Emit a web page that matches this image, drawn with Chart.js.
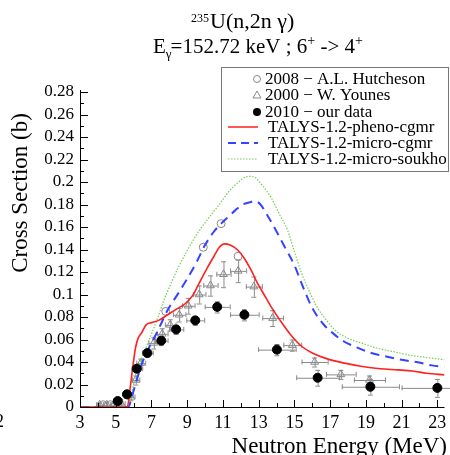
<!DOCTYPE html>
<html>
<head>
<meta charset="utf-8">
<script src="https://cdn.jsdelivr.net/npm/chart.js@4.4.1/dist/chart.umd.min.js"></script>
<style>
html,body{margin:0;padding:0;background:#fff;}
#wrap{position:relative;width:450px;height:455px;}
</style>
</head>
<body>
<div id="wrap"><canvas id="c" width="450" height="455"></canvas></div>
<script>
// ---------- data ----------
const xTickLabels = [3,5,7,9,11,13,15,17,19,21,23];
const yTickStep = 0.02;

// 2008 - A.L. Hutcheson (open circles)
const hutchE   = [4.3, 4.7, 7.8, 9.9, 10.9, 11.85];
const hutchXS  = [0.002, 0.002, 0.085, 0.142, 0.163, 0.134];

// 2000 - W. Younes (open triangles)
const younesE    = [4.1, 4.5, 4.9, 5.3, 5.85, 6.12, 6.4, 7.13, 7.6, 8.05, 8.55, 9.06, 9.67, 10.3, 11.03, 11.85, 12.73, 13.78, 14.88, 16.13, 17.6, 19.2];
const younesXS   = [0.002, 0.002, 0.002, 0.003, 0.009, 0.024, 0.039, 0.057, 0.065, 0.073, 0.082, 0.090, 0.100, 0.108, 0.118, 0.121, 0.107, 0.079, 0.055, 0.040, 0.029, 0.024];
const younesEerr = [0.2, 0.2, 0.2, 0.2, 0.2, 0.2, 0.25, 0.3, 0.3, 0.3, 0.35, 0.35, 0.35, 0.4, 0.4, 0.45, 0.45, 0.58, 0.5, 0.73, 0.83, 0.87];
const younesXSerr= [0.002, 0.002, 0.002, 0.002, 0.003, 0.004, 0.004, 0.005, 0.005, 0.005, 0.006, 0.007, 0.008, 0.009, 0.0115, 0.01, 0.009, 0.007, 0.005, 0.004, 0.004, 0.004];

// 2010 - our data (filled circles)
const ourE     = [5.11, 5.63, 6.18, 6.77, 7.55, 8.38, 9.45, 10.68, 12.2, 14.02, 16.3, 19.25, 23.0];
const ourXS    = [0.0053, 0.0113, 0.034, 0.048, 0.059, 0.069, 0.077, 0.089, 0.082, 0.051, 0.026, 0.018, 0.017];
const ourEerr  = [0.25, 0.25, 0.3, 0.3, 0.35, 0.4, 0.5, 0.7, 0.8, 1.05, 1.2, 1.6, 2.0];
const ourXSerr = [0.003, 0.003, 0.003, 0.003, 0.004, 0.004, 0.004, 0.005, 0.005, 0.005, 0.007, 0.007, 0.008];

// TALYS-1.2-pheno-cgmr (red)
const phenoE  = [3, 5.65, 5.8, 5.95, 6.1, 6.25, 6.45, 6.7, 7.0, 7.4, 7.9, 8.4, 8.9, 9.3, 9.7, 10.1, 10.5, 10.8, 11.1, 11.4, 11.8, 12.2, 12.6, 12.9, 13.3, 13.7, 14.2, 14.8, 15.4, 16.0, 16.8, 17.8, 18.8, 19.8, 20.8, 21.6, 22.4, 23.4];
const phenoXS = [0, 0, 0.016, 0.035, 0.052, 0.061, 0.066, 0.073, 0.075, 0.077, 0.082, 0.087, 0.092, 0.099, 0.111, 0.123, 0.134, 0.142, 0.145, 0.144, 0.140, 0.132, 0.121, 0.111, 0.100, 0.089, 0.077, 0.064, 0.054, 0.048, 0.043, 0.039, 0.036, 0.034, 0.033, 0.032, 0.030, 0.0285];

// TALYS-1.2-micro-cgmr (blue dashed)
const microE  = [3, 5.7, 5.85, 6.1, 6.5, 6.9, 7.3, 7.9, 8.5, 9.0, 9.5, 10.0, 10.5, 10.9, 11.3, 11.7, 12.1, 12.5, 12.8, 13.1, 13.5, 14.0, 14.5, 15.0, 15.5, 16.0, 16.6, 17.2, 17.8, 18.5, 19.3, 20.2, 21.0, 21.9, 22.7, 23.4];
const microXS = [0, 0, 0.006, 0.02, 0.040, 0.054, 0.066, 0.086, 0.101, 0.114, 0.128, 0.144, 0.156, 0.163, 0.169, 0.175, 0.180, 0.182, 0.183, 0.180, 0.170, 0.156, 0.141, 0.126, 0.106, 0.088, 0.074, 0.065, 0.058, 0.053, 0.048, 0.0447, 0.042, 0.0397, 0.037, 0.0358];

// TALYS-1.2-micro-soukho (green dotted)
const soukhoE  = [3, 5.75, 5.9, 6.1, 6.4, 6.7, 7.0, 7.3, 7.7, 8.1, 8.5, 9.0, 9.6, 10.2, 10.8, 11.3, 11.8, 12.2, 12.5, 12.8, 13.2, 13.7, 14.2, 14.6, 15.0, 15.4, 15.8, 16.3, 16.8, 17.3, 18.0, 18.8, 19.7, 20.6, 21.5, 22.4, 23.4];
const soukhoXS = [0, 0, 0.012, 0.028, 0.041, 0.053, 0.065, 0.077, 0.095, 0.110, 0.124, 0.139, 0.155, 0.168, 0.180, 0.191, 0.199, 0.204, 0.205, 0.204, 0.197, 0.186, 0.170, 0.158, 0.138, 0.119, 0.104, 0.088, 0.077, 0.068, 0.061, 0.0566, 0.052, 0.049, 0.046, 0.044, 0.042];

const legendLabels = ['2008 \u2212 A.L. Hutcheson', '2000 \u2212 W. Younes', '2010 \u2212 our data',
  'TALYS-1.2-pheno-cgmr', 'TALYS-1.2-micro-cgmr', 'TALYS-1.2-micro-soukho'];

// ---------- helpers ----------
const pts = (xs, ys) => xs.map((x, i) => ({x: x, y: ys[i]}));
const SERIF = '"Liberation Serif", "Times New Roman", serif';

const errorBars = [
  {E: younesE, S: younesXS, dE: younesEerr, dS: younesXSerr},
  {E: ourE, S: ourXS, dE: ourEerr, dS: ourXSerr}
];

const overlay = {
  id: 'overlay',
  beforeDatasetsDraw(chart) {
    const ctx = chart.ctx, xs = chart.scales.x, ys = chart.scales.y;
    ctx.save();
    ctx.strokeStyle = '#8a8a8a';
    ctx.lineWidth = 1;
    const cap = 2.5;
    errorBars.forEach(set => {
      set.E.forEach((e, i) => {
        const px = xs.getPixelForValue(e), py = ys.getPixelForValue(set.S[i]);
        const x1 = xs.getPixelForValue(e - set.dE[i]), x2 = xs.getPixelForValue(e + set.dE[i]);
        const y1 = ys.getPixelForValue(set.S[i] - set.dS[i]), y2 = ys.getPixelForValue(set.S[i] + set.dS[i]);
        ctx.beginPath();
        ctx.moveTo(x1, py + 0.5); ctx.lineTo(x2, py + 0.5);
        ctx.moveTo(x1 + 0.5, py - cap); ctx.lineTo(x1 + 0.5, py + cap);
        ctx.moveTo(x2 + 0.5, py - cap); ctx.lineTo(x2 + 0.5, py + cap);
        ctx.moveTo(px + 0.5, y1); ctx.lineTo(px + 0.5, y2);
        ctx.moveTo(px - cap, y1 + 0.5); ctx.lineTo(px + cap, y1 + 0.5);
        ctx.moveTo(px - cap, y2 + 0.5); ctx.lineTo(px + cap, y2 + 0.5);
        ctx.stroke();
      });
    });
    ctx.restore();
  },
  afterDraw(chart) {
    const ctx = chart.ctx, xs = chart.scales.x, ys = chart.scales.y, a = chart.chartArea;
    ctx.save();
    // axes
    ctx.strokeStyle = '#000';
    ctx.lineWidth = 1;
    ctx.beginPath();
    ctx.moveTo(a.left + 0.5, ys.getPixelForValue(ys.max) - 2);
    ctx.lineTo(a.left + 0.5, a.bottom + 0.5);
    ctx.lineTo(a.right, a.bottom + 0.5);
    ctx.stroke();
    // x ticks (inward)
    ctx.beginPath();
    for (let e = Math.ceil(xs.min); e <= xs.max; e++) {
      const px = Math.round(xs.getPixelForValue(e)) + 0.5;
      const len = (e % 2 === 1) ? 7 : 4;
      ctx.moveTo(px, a.bottom); ctx.lineTo(px, a.bottom - len);
    }
    // y ticks (inward)
    for (let k = 0; k <= 28; k++) {
      const py = Math.round(ys.getPixelForValue(k / 100)) + 0.5;
      const len = (k % 2 === 0) ? 8 : 4;
      ctx.moveTo(a.left, py); ctx.lineTo(a.left + len, py);
    }
    ctx.stroke();

    // legend box
    const bx = 221.5, by = 67.5, bw = 227, bh = 104;
    ctx.fillStyle = '#fff';
    ctx.fillRect(bx, by, bw, bh);
    ctx.strokeStyle = '#777';
    ctx.strokeRect(bx, by, bw, bh);
    const rows = [79, 95, 112, 127, 143, 159];
    ctx.font = '17px ' + SERIF;
    ctx.textBaseline = 'middle';
    ctx.fillStyle = '#000';
    // markers
    ctx.strokeStyle = '#888'; ctx.lineWidth = 1;
    ctx.beginPath(); ctx.arc(257, rows[0], 3.5, 0, Math.PI * 2); ctx.stroke();
    ctx.beginPath(); ctx.moveTo(257, rows[1] - 4); ctx.lineTo(261, rows[1] + 3); ctx.lineTo(253, rows[1] + 3); ctx.closePath(); ctx.stroke();
    ctx.fillStyle = '#000';
    ctx.beginPath(); ctx.arc(257, rows[2], 4, 0, Math.PI * 2); ctx.fill();
    // lines
    ctx.lineWidth = 1.5; ctx.strokeStyle = '#ff2020'; ctx.setLineDash([]);
    ctx.beginPath(); ctx.moveTo(228, rows[3]); ctx.lineTo(258, rows[3]); ctx.stroke();
    ctx.lineWidth = 1.8; ctx.strokeStyle = '#3344ff'; ctx.setLineDash([8, 5]);
    ctx.beginPath(); ctx.moveTo(228, rows[4]); ctx.lineTo(258, rows[4]); ctx.stroke();
    ctx.lineWidth = 1.2; ctx.strokeStyle = '#77cc55'; ctx.setLineDash([1.5, 1.5]);
    ctx.beginPath(); ctx.moveTo(228, rows[5]); ctx.lineTo(258, rows[5]); ctx.stroke();
    ctx.setLineDash([]);
    ctx.fillStyle = '#000';
    legendLabels.forEach((t, i) => {
      ctx.fillText(t, i < 3 ? 265 : 268, rows[i] + 1);
    });

    // titles
    ctx.textBaseline = 'alphabetic';
    ctx.textAlign = 'left';
    let x = 191;
    ctx.font = '12px ' + SERIF; ctx.fillText('235', x, 22); x += ctx.measureText('235').width + 1;
    ctx.font = '22px ' + SERIF; ctx.fillText('U(n,2n \u03b3)', x, 28);
    x = 153;
    ctx.font = '21px ' + SERIF; ctx.fillText('E', x, 53); x += ctx.measureText('E').width;
    ctx.font = '13px ' + SERIF; ctx.fillText('\u03b3', x, 58); x += ctx.measureText('\u03b3').width - 1;
    ctx.font = '21px ' + SERIF; ctx.fillText('=152.72 keV ; 6', x, 53); x += ctx.measureText('=152.72 keV ; 6').width;
    ctx.font = '14px ' + SERIF; ctx.fillText('+', x, 45); x += ctx.measureText('+').width;
    ctx.font = '21px ' + SERIF; ctx.fillText(' -> 4', x, 53); x += ctx.measureText(' -> 4').width;
    ctx.font = '14px ' + SERIF; ctx.fillText('+', x, 45);

    // axis titles
    ctx.font = '23px ' + SERIF;
    ctx.textAlign = 'right';
    ctx.fillText('Neutron Energy (MeV)', 447, 453);
    ctx.save();
    ctx.translate(21, 193);
    ctx.rotate(-Math.PI / 2);
    ctx.textAlign = 'center';
    ctx.textBaseline = 'middle';
    ctx.fillText('Cross Section (b)', 0, 0);
    ctx.restore();
    // clipped label from neighbouring panel
    ctx.font = '18px ' + SERIF;
    ctx.textAlign = 'left';
    ctx.fillText('2', -5, 427);
    ctx.restore();
  }
};

new Chart(document.getElementById('c'), {
  type: 'scatter',
  data: {
    datasets: [
      {label: legendLabels[2], data: pts(ourE, ourXS), pointStyle: 'circle', pointRadius: 4.5, pointBackgroundColor: '#000', pointBorderColor: '#000', showLine: false, order: 0},
      {label: legendLabels[3], data: pts(phenoE, phenoXS), showLine: true, pointRadius: 0, borderColor: '#ff2020', borderWidth: 1.6, cubicInterpolationMode: 'monotone', order: 1},
      {label: legendLabels[4], data: pts(microE, microXS), showLine: true, pointRadius: 0, borderColor: '#3344ff', borderWidth: 2, borderDash: [9, 6], cubicInterpolationMode: 'monotone', order: 2},
      {label: legendLabels[5], data: pts(soukhoE, soukhoXS), showLine: true, pointRadius: 0, borderColor: '#77cc55', borderWidth: 1.2, borderDash: [1.5, 1.5], cubicInterpolationMode: 'monotone', order: 3},
      {label: legendLabels[0], data: pts(hutchE, hutchXS), pointStyle: 'circle', pointRadius: 4, pointBackgroundColor: 'rgba(0,0,0,0)', pointBorderColor: '#888', pointBorderWidth: 1, showLine: false, order: 4},
      {label: legendLabels[1], data: pts(younesE, younesXS), pointStyle: 'triangle', pointRadius: 4.5, pointBackgroundColor: 'rgba(0,0,0,0)', pointBorderColor: '#888', pointBorderWidth: 1, showLine: false, order: 5}
    ]
  },
  options: {
    responsive: false,
    animation: false,
    events: [],
    layout: {padding: {top: 92, left: 0, right: 0, bottom: 0}},
    plugins: {legend: {display: false}, tooltip: {enabled: false}, title: {display: false}},
    scales: {
      x: {
        type: 'linear', min: 3, max: 23.4,
        grid: {display: false, drawTicks: false},
        border: {display: false},
        afterBuildTicks: s => { s.ticks = xTickLabels.map(v => ({value: v})); },
        afterFit: s => { s.height = 48; s.paddingLeft = 0; s.paddingRight = 0; },
        ticks: {autoSkip: false, maxRotation: 0, padding: 5, color: '#000', font: {family: SERIF, size: 18},
          callback: v => String(v)}
      },
      y: {
        type: 'linear', min: 0, max: 0.28,
        grid: {display: false, drawTicks: false},
        border: {display: false},
        afterFit: s => { s.width = 80; s.paddingTop = 0; s.paddingBottom = 0; },
        ticks: {stepSize: yTickStep, autoSkip: false, padding: 6, color: '#000', font: {family: SERIF, size: 17},
          callback: v => String(Math.round(v * 100) / 100)}
      }
    }
  },
  plugins: [overlay]
});
</script>
</body>
</html>
